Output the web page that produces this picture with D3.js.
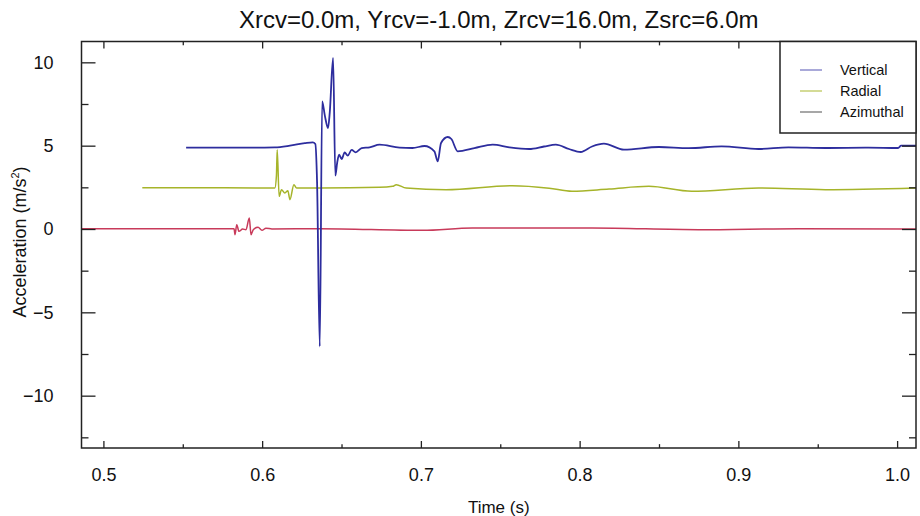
<!DOCTYPE html>
<html>
<head>
<meta charset="utf-8">
<script src="https://d3js.org/d3.v7.min.js"></script>
<style>
    body { margin: 0; background: #fff; font-family: "Liberation Sans", Arial, Helvetica, sans-serif; }
    .frame { fill: none; stroke: #222; stroke-width: 1.5; }
    .tick line { stroke: #222; stroke-width: 1.3; }
    .series { fill: none; stroke-linejoin: round; }
</style>
</head>
<body>
<div id="chart"></div>
<script>
// time (s), acceleration (m/s^2)
const vertical = [
    [0.5521, 4.88], [0.5861, 4.88], [0.6080, 4.90], [0.6175, 5.00], [0.6269, 5.15],
    [0.6319, 5.20], [0.6335, 5.10], [0.6346, 2.80], [0.6363, -7.05], [0.6378, 7.65],
    [0.6395, 6.80], [0.6415, 6.06], [0.6426, 7.00], [0.6447, 10.26], [0.6461, 3.20],
    [0.6473, 4.00], [0.6485, 4.46], [0.6501, 4.20], [0.6520, 4.60], [0.6539, 4.40],
    [0.6564, 4.75], [0.6589, 4.60], [0.6627, 4.85], [0.6677, 4.90], [0.6740, 5.06],
    [0.6866, 4.88], [0.6947, 4.86], [0.7023, 4.98], [0.7085, 4.66], [0.7106, 4.06],
    [0.7127, 5.16], [0.7169, 5.52], [0.7192, 5.40], [0.7232, 4.66],
    [0.7337, 4.85], [0.7452, 5.06], [0.7557, 4.90], [0.7682, 4.80], [0.7776, 4.95],
    [0.7850, 5.06], [0.7933, 4.80], [0.8007, 4.62], [0.8078, 4.95], [0.8153, 5.12],
    [0.8279, 4.76], [0.8499, 4.92], [0.8687, 4.85], [0.8894, 4.96], [0.9127, 4.80],
    [0.9315, 4.90], [0.9548, 4.86], [0.9818, 4.88], [1.0006, 4.86], [1.0025, 5.00],
    [1.0119, 5.00]
];
const radial = [
    [0.5245, 2.48], [0.5609, 2.48], [0.6080, 2.46], [0.6090, 3.20], [0.6095, 4.76],
    [0.6107, 1.96], [0.6122, 2.36], [0.6143, 2.16], [0.6162, 2.30], [0.6175, 1.76],
    [0.6200, 2.66], [0.6217, 2.46], [0.6363, 2.46], [0.6740, 2.50], [0.6822, 2.56],
    [0.6845, 2.66], [0.6907, 2.46], [0.7158, 2.36], [0.7575, 2.60], [0.7808, 2.45],
    [0.7952, 2.26], [0.8185, 2.40], [0.8436, 2.56], [0.8706, 2.26], [0.9127, 2.46],
    [0.9548, 2.36], [1.0119, 2.46]
];
const azimuthal = [
    [0.4862, 0.02], [0.5609, 0.02], [0.5823, 0.02], [0.5829, -0.34], [0.5840, 0.26],
    [0.5854, -0.14], [0.5877, 0.00], [0.5898, -0.05], [0.5919, 0.66], [0.5930, -0.34],
    [0.5944, -0.04], [0.5974, 0.10], [0.5999, -0.08], [0.6024, 0.05], [0.6062, 0.00],
    [0.6363, 0.02], [0.7010, -0.08], [0.7324, 0.06], [0.8078, 0.06], [0.8750, -0.04],
    [0.9378, 0.02], [1.0119, 0.00]
];
const seriesNames = ["Vertical", "Radial", "Azimuthal"];
const seriesColors = ["#2d2d9e", "#a6b42a", "#c83a5a"];
const legendColors = ["#8c8ccc", "#c6cf73", "#8a8a8a"];
const xMajor = [0.5, 0.6, 0.7, 0.8, 0.9, 1.0];
const xMinor = [0.55, 0.65, 0.75, 0.85, 0.95];
const yMajor = [10, 5, 0, -5, -10];
const yMinor = [7.5, 2.5, -2.5, -7.5, -12.5];

const W = 920, H = 516;
const margin = {top: 41.5, right: 4, bottom: 68, left: 81.5};

const svg = d3.select("#chart").append("svg")
    .attr("width", W).attr("height", H);

const x = d3.scaleLinear().domain([0.4862, 1.0119]).range([margin.left, W - margin.right]);
const y = d3.scaleLinear().domain([-13.14, 11.25]).range([H - margin.bottom, margin.top]);

// data lines
const line = d3.line().x(d => x(d[0])).y(d => y(d[1])).curve(d3.curveMonotoneX);
svg.append("clipPath").attr("id", "plot")
    .append("rect")
    .attr("x", margin.left).attr("y", margin.top)
    .attr("width", W - margin.left - margin.right)
    .attr("height", H - margin.top - margin.bottom);

const plot = svg.append("g").attr("clip-path", "url(#plot)");
[azimuthal, radial, vertical].forEach((s, i) => {
    const k = 2 - i;
    plot.append("path")
        .attr("class", "series")
        .attr("d", line(s))
        .attr("stroke", seriesColors[k])
        .attr("stroke-width", k === 0 ? 1.8 : 1.5);
});

// axes with inward ticks on all four sides
const fmtX = d3.format(".1f");
function xAxis(gen, ty, len, labels) {
    const g = svg.append("g").attr("transform", `translate(0,${ty})`)
        .call(gen(x).tickValues(xMajor).tickSize(len).tickPadding(20)
            .tickFormat(labels ? fmtX : ""));
    g.select(".domain").remove();
    g.selectAll("text").attr("font-size", "18px").attr("fill", "#111")
        .attr("font-family", "Liberation Sans, Arial, sans-serif");
    const g2 = svg.append("g").attr("transform", `translate(0,${ty})`)
        .call(gen(x).tickValues(xMinor).tickSize(len * 0.55).tickFormat(""));
    g2.select(".domain").remove();
}
function yAxis(gen, tx, len, labels) {
    const g = svg.append("g").attr("transform", `translate(${tx},0)`)
        .call(gen(y).tickValues(yMajor).tickSize(len).tickPadding(labels ? 14 - len : 3)
            .tickFormat(labels ? d3.format("d") : ""));
    g.select(".domain").remove();
    g.selectAll("text").attr("font-size", "18px").attr("fill", "#111")
        .attr("font-family", "Liberation Sans, Arial, sans-serif");
    const g2 = svg.append("g").attr("transform", `translate(${tx},0)`)
        .call(gen(y).tickValues(yMinor).tickSize(len * 0.5).tickFormat(""));
    g2.select(".domain").remove();
}
xAxis(d3.axisBottom, H - margin.bottom, -7, true);
xAxis(d3.axisTop, margin.top, -7, false);
yAxis(d3.axisLeft, margin.left, -14, true);
yAxis(d3.axisRight, W - margin.right, -14, false);

svg.append("rect").attr("class", "frame")
    .attr("x", margin.left).attr("y", margin.top)
    .attr("width", W - margin.left - margin.right)
    .attr("height", H - margin.top - margin.bottom);

// titles
svg.append("text")
    .attr("x", (margin.left + W - margin.right) / 2).attr("y", 28)
    .attr("text-anchor", "middle").attr("font-size", "24px").attr("fill", "#111")
    .text("Xrcv=0.0m, Yrcv=-1.0m, Zrcv=16.0m, Zsrc=6.0m");

svg.append("text")
    .attr("x", (margin.left + W - margin.right) / 2).attr("y", 513)
    .attr("text-anchor", "middle").attr("font-size", "17px").attr("fill", "#111")
    .text("Time (s)");

const yl = svg.append("text")
    .attr("transform", "translate(26,242) rotate(-90)")
    .attr("text-anchor", "middle").attr("font-size", "18px").attr("fill", "#111");
yl.append("tspan").text("Acceleration (m/s");
yl.append("tspan").attr("font-size", "11px").attr("dy", "-7").text("2");
yl.append("tspan").attr("dy", "7").text(")");

// legend
const lg = svg.append("g");
lg.append("rect")
    .attr("x", 780).attr("y", margin.top)
    .attr("width", W - margin.right - 780).attr("height", 133 - margin.top)
    .attr("fill", "#fff").attr("stroke", "#222").attr("stroke-width", 1.5);
seriesNames.forEach((name, i) => {
    const cy = 70 + i * 21;
    lg.append("line")
        .attr("x1", 800).attr("x2", 822).attr("y1", cy).attr("y2", cy)
        .attr("stroke", legendColors[i]).attr("stroke-width", 1.5);
    lg.append("text")
        .attr("x", 840).attr("y", cy).attr("dy", "0.36em")
        .attr("font-size", "14.5px").attr("fill", "#111")
        .text(name);
});
</script>
</body>
</html>
